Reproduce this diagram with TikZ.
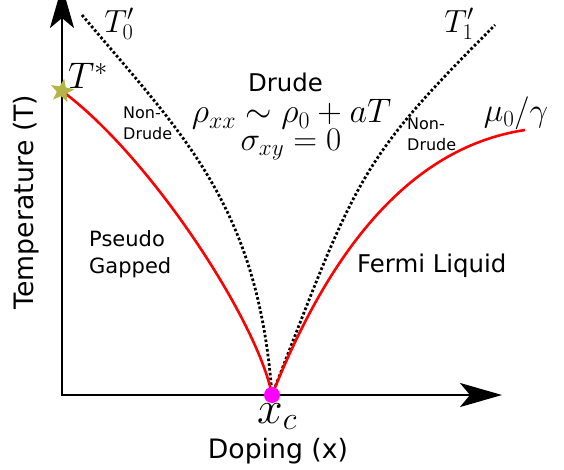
\RequirePackage{fix-cm}
\documentclass[tikz,border=0pt]{standalone}
\usepackage{fontspec}
\usepackage{amsmath}
\usetikzlibrary{arrows.meta,shapes.geometric}
\newfontfamily\labelfont{DejaVu Sans}
\definecolor{PhaseRed}    {RGB}{255,   0,   0}
\definecolor{StarOlive}   {RGB}{180, 180,  72}
\definecolor{CritMagenta} {RGB}{255,   0, 255}

\begin{document}
\begin{tikzpicture}[x=1pt, y=-1pt,
    axis line/.style={line width=2.6pt,
      {Stealth[length=42pt,width=24pt,inset=10pt]}-{Stealth[length=42pt,width=24pt,inset=10pt]}},
    phase line/.style={PhaseRed, line width=2.6pt},
    cross line/.style={black, line width=2.8pt, dash pattern=on 2.6pt off 2.2pt},
    axis label/.style={font=\labelfont\fontsize{26.7}{30}\selectfont, inner sep=0pt},
    big label/.style={font=\labelfont\fontsize{24.4}{28}\selectfont, inner sep=0pt},
    mid label/.style={font=\labelfont\fontsize{21}{27}\selectfont, inner sep=0pt, align=left},
    small label/.style={font=\labelfont\fontsize{16}{21}\selectfont, inner sep=0pt, align=left},
    math label/.style={font=\fontsize{#1}{#1}\selectfont, inner sep=0pt}]
  \useasboundingbox (0,0) rectangle (564,470);
  \clip (0,0) rectangle (564,470);

  % axes
  \coordinate (origin) at (62,395);
  \coordinate (ytip)   at (62,-14);
  \coordinate (xtip)   at (502,395);
  \draw[axis line] (ytip) -- (origin) -- (xtip);

  \coordinate (tstar) at (62,91);
  \coordinate (xc)    at (272,395);
  \coordinate (t0end) at (82,15);
  \coordinate (t1end) at (495,25);
  \coordinate (muend) at (525,130);

  % crossover lines
  \draw[cross line] (t0end) .. controls (183,135) and (258,205) .. (xc);
  \draw[cross line] (xc) .. controls (357,176) and (359,161) .. (t1end);

  % pseudogap and Fermi liquid boundaries
  \draw[phase line] (tstar) .. controls (151,157) and (258,322) .. (xc);
  \draw[phase line] (xc) .. controls (327,257) and (406,148) .. (muend);

  \node[star, star points=5, star point ratio=2.4, fill=StarOlive, minimum size=25pt, inner sep=0pt,
        rotate=-10] (tstardot) at (tstar) {};
  \node[circle, fill=CritMagenta, minimum size=16pt, inner sep=0pt] (xcdot) at (xc) {};

  % axis labels
  \node[axis label, anchor=base] (xlabel) at (278,458) {Doping (x)};
  \node[axis label, rotate=90] (ylabel) at (26,202) {Temperature (T)};

  \node[math label=32] (t0label) at (119,24) {$T'_0$};
  \node[math label=32] (t1label) at (459,24) {$T'_1$};
  \node[math label=37] (tstarlabel) at (88,76) {$T^*$};
  \node[math label=33, anchor=base] (mulabel) at (516,122) {$\mu_0/\gamma$};
  \node[math label=46, anchor=base] (xclabel) at (277,423) {$x_c$};

  % regions
  \node[big label, anchor=base] (drude) at (285.5,92) {Drude};
  \node[math label=34, anchor=base] (rhoxx) at (291.5,123) {$\rho_{xx}\sim\rho_0+aT$};
  \node[math label=33, anchor=base] (sigmaxy) at (291,151) {$\sigma_{xy}=0$};
  \node[small label, anchor=north west] (nondrudeL) at (123,107) {Non-\\Drude};
  \node[small label, anchor=north west] (nondrudeR) at (407,118) {Non-\\Drude};
  \node[mid label, anchor=north west] (pseudo) at (89,230) {Pseudo\\Gapped};
  \node[big label, anchor=base west] (fermi) at (357,272) {Fermi Liquid};
\end{tikzpicture}
\end{document}
